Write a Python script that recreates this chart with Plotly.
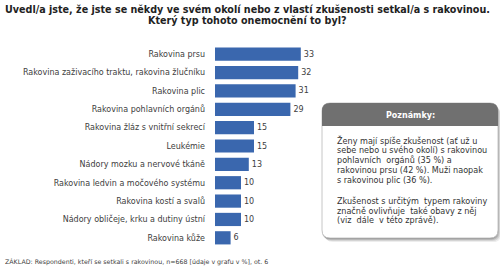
import plotly.graph_objects as go

categories = [
    "Rakovina prsu",
    "Rakovina zaživacího traktu, rakovina žlučníku",
    "Rakovina plic",
    "Rakovina pohlavních orgánů",
    "Rakovina žláz s vnitřní sekrecí",
    "Leukémie",
    "Nádory mozku a nervové tkáně",
    "Rakovina ledvin a močového systému",
    "Rakovina kostí a svalů",
    "Nádory obličeje, krku a dutiny ústní",
    "Rakovina kůže",
]
values = [33, 32, 31, 29, 15, 15, 13, 10, 10, 10, 6]

title_lines = [
    "Uvedl/a jste, že jste se někdy ve svém okolí nebo z vlastí zkušenosti setkal/a s rakovinou.",
    "Který typ tohoto onemocnění to byl?",
]
footer = "ZÁKLAD: Respondenti, kteří se setkali s rakovinou, n=668 [údaje v grafu v %], ot. 6"
note_title = "Poznámky:"
note_par1 = [
    "Ženy mají spíše zkušenost (ať už u",
    "sebe nebo u svého okolí) s rakovinou",
    "pohlavních  orgánů (35 %) a",
    "rakovinou prsu (42 %). Muži naopak",
    "s rakovinou plic (36 %).",
]
note_par2 = [
    "Zkušenost s určitým  typem rakoviny",
    "značně ovlivňuje  také obavy z něj",
    "(viz  dále  v této zprávě).",
]

W, H = 500, 267
L, R, T, B = 215, 0, 45, 20
PW, PH = W - L - R, H - T - B
PX_PER_UNIT = 2.6
FONT = "DejaVu Sans, Verdana, sans-serif"


def px(x):
    return (x - L) / PW


def py(y):
    return (T + PH - y) / PH


def rrect(x0, y0, x1, y1, r, top_only=False):
    rb = 0 if top_only else r
    pts = [
        f"M {px(x0 + r)},{py(y0)}",
        f"L {px(x1 - r)},{py(y0)}",
        f"Q {px(x1)},{py(y0)} {px(x1)},{py(y0 + r)}",
        f"L {px(x1)},{py(y1 - rb)}",
    ]
    if rb:
        pts.append(f"Q {px(x1)},{py(y1)} {px(x1 - rb)},{py(y1)}")
    pts.append(f"L {px(x0 + rb)},{py(y1)}")
    if rb:
        pts.append(f"Q {px(x0)},{py(y1)} {px(x0)},{py(y1 - rb)}")
    pts.append(f"L {px(x0)},{py(y0 + r)}")
    pts.append(f"Q {px(x0)},{py(y0)} {px(x0 + r)},{py(y0)} Z")
    return " ".join(pts)


fig = go.Figure(
    go.Bar(
        x=values,
        y=categories,
        orientation="h",
        marker=dict(color="#3A67AE", line=dict(width=0)),
        width=0.72,
        text=[str(v) for v in values],
        textposition="outside",
        textfont=dict(family=FONT, size=8, color="#404040"),
        cliponaxis=False,
        hoverinfo="skip",
    )
)

fig.update_layout(
    width=W,
    height=H,
    margin=dict(l=L, r=R, t=T, b=B, pad=0),
    paper_bgcolor="white",
    plot_bgcolor="white",
    showlegend=False,
    xaxis=dict(
        range=[0, PW / PX_PER_UNIT],
        visible=False,
        fixedrange=True,
    ),
    yaxis=dict(
        autorange="reversed",
        showgrid=False,
        showline=False,
        zeroline=False,
        ticks="",
        ticklabelstandoff=9,
        tickfont=dict(family=FONT, size=8, color="#404040"),
        fixedrange=True,
    ),
)

shapes = []
bx0, by0, bx1, by1 = 322, 103, 498, 238
# shadow
for off, op in [(4, 0.10), (3, 0.16), (2, 0.22), (1, 0.3)]:
    shapes.append(dict(type="path", xref="paper", yref="paper",
                       path=rrect(bx0 + off - 1, by0 + off, bx1 + off - 1, by1 + off, 8),
                       fillcolor=f"rgba(80,80,80,{op})", line=dict(width=0), layer="above"))
shapes.append(dict(type="path", xref="paper", yref="paper",
                   path=rrect(bx0, by0, bx1, by1, 8),
                   fillcolor="white", line=dict(color="#b8b8b8", width=0.8), layer="above"))
shapes.append(dict(type="path", xref="paper", yref="paper",
                   path=rrect(bx0, by0, bx1, 126, 8, top_only=True),
                   fillcolor="#707070", line=dict(width=0), layer="above"))
fig.update_layout(shapes=shapes)

ann = []
for i, (line, yy) in enumerate(zip(title_lines, [9, 21])):
    ann.append(dict(text=f"<b>{line}</b>", x=px(247), y=py(yy), xref="paper", yref="paper",
                    xanchor="center", yanchor="middle", showarrow=False,
                    font=dict(family=FONT, size=9.6, color="#222222")))
ann.append(dict(text=footer, x=px(3), y=py(262), xref="paper", yref="paper",
                xanchor="left", yanchor="middle", showarrow=False,
                font=dict(family=FONT, size=6.3, color="#404040")))
ann.append(dict(text=f"<b>{note_title}</b>", x=px((bx0 + bx1) / 2), y=py(115), xref="paper", yref="paper",
                xanchor="center", yanchor="middle", showarrow=False,
                font=dict(family=FONT, size=8, color="white")))
for i, line in enumerate(note_par1):
    ann.append(dict(text=line, x=px(335), y=py(140 + 10 * i), xref="paper", yref="paper",
                    xanchor="left", yanchor="middle", showarrow=False,
                    font=dict(family=FONT, size=8.1, color="#333333")))
for i, line in enumerate(note_par2):
    ann.append(dict(text=line, x=px(335), y=py(201 + 9.5 * i), xref="paper", yref="paper",
                    xanchor="left", yanchor="middle", showarrow=False,
                    font=dict(family=FONT, size=8.1, color="#333333")))
fig.update_layout(annotations=ann)

fig.write_html("out.html")
